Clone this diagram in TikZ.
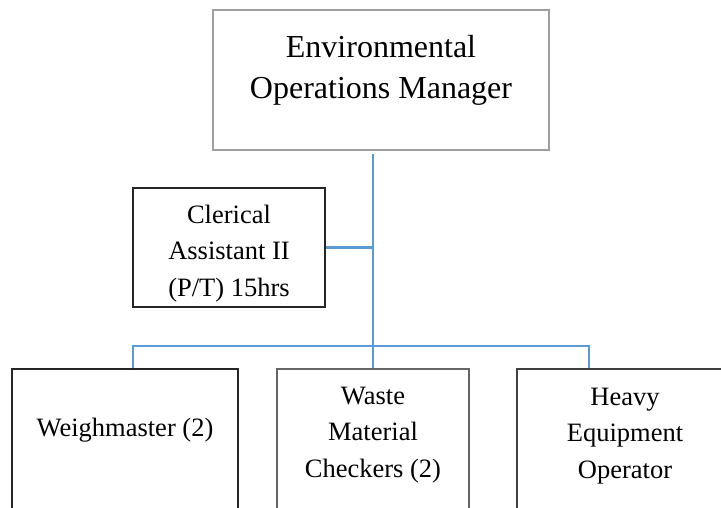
\documentclass[tikz,border=0pt]{standalone}
\usepackage{fontspec}
\setmainfont{Liberation Serif}
\definecolor{linkblue}{HTML}{5B9BD5}
\begin{document}
\begin{tikzpicture}[x=1pt,y=-1pt,
  box/.style={draw, rectangle, line width=1.2pt, inner sep=0pt},
  link/.style={draw=linkblue, line width=2.2pt},
  bigtext/.style={font=\fontsize{32}{41.7}\selectfont, align=center, anchor=base, inner sep=0pt},
  smalltext/.style={font=\fontsize{26.5}{36.5}\selectfont, align=center, anchor=base, inner sep=0pt}]
\useasboundingbox (0,0) rectangle (721,508);
\clip (0,0) rectangle (721,508);

% boxes
\node[box, draw=black!38, minimum width=336pt, minimum height=140pt] (mgr) at (381,80) {};
\node[box, draw=black!85, minimum width=192pt, minimum height=119pt] (cler) at (229,247.5) {};
\node[box, draw=black!85, minimum width=226pt, minimum height=240pt] (wm) at (125,489) {};
\node[box, draw=black!60, minimum width=192pt, minimum height=240pt] (wmc) at (373,489) {};
\node[box, draw=black!75, minimum width=216pt, minimum height=240pt] (heo) at (625,489) {};

% labels (anchored at the baseline of their last line)
\node[bigtext] (mgrlbl) at (381,99) {Environmental\\Operations Manager};
\node[smalltext] (clerlbl) at (229,296) {Clerical\\Assistant II\\(P/T) 15hrs};
\node[smalltext] (wmlbl) at (125,436) {Weighmaster (2)};
\node[smalltext] (wmclbl) at (373,477) {Waste\\Material\\Checkers (2)};
\node[smalltext] (heolbl) at (625,478) {Heavy\\Equipment\\Operator};

% connectors
\coordinate (trunk) at (373,154);
\coordinate (junc) at (373,346);
\coordinate (busL) at (133,346);
\coordinate (busR) at (589,346);
\draw[link] (trunk) -- (junc) -- (wmc.north);
\draw[link] (cler.east) -- (cler.east -| trunk);
\draw[link] (busL |- wm.north) -- (busL) -- (busR) -- (busR |- heo.north);
\end{tikzpicture}
\end{document}
